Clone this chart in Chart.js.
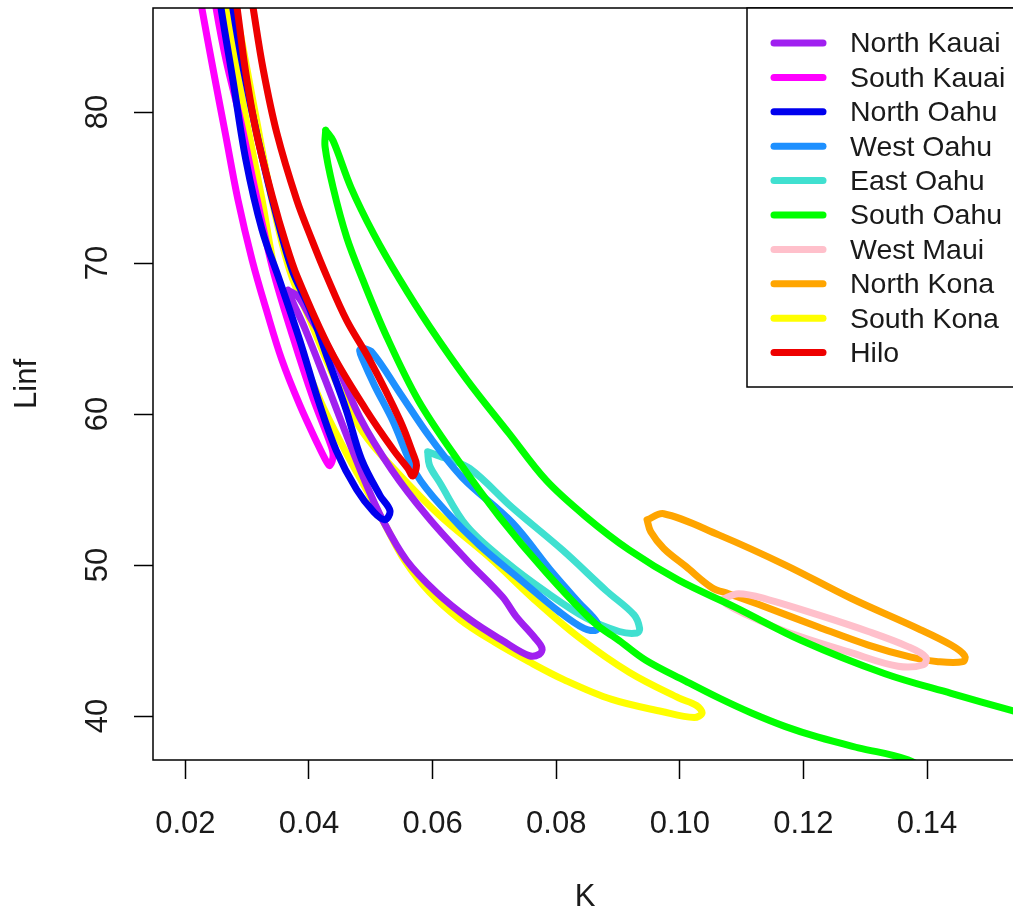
<!DOCTYPE html>
<html>
<head>
<meta charset="utf-8">
<title>K vs Linf</title>
<script src="https://cdn.jsdelivr.net/npm/chart.js@4.4.1/dist/chart.umd.min.js"></script>
<style>
  html, body { margin: 0; padding: 0; background: #fff; overflow: hidden; }
  #wrap { width: 1025px; height: 918px; }
</style>
</head>
<body>
<div id="wrap"><canvas id="c" width="1025" height="918"></canvas></div>
<script>
// regions, in legend order
const regions = ['North Kauai', 'South Kauai', 'North Oahu', 'West Oahu', 'East Oahu',
                 'South Oahu', 'West Maui', 'North Kona', 'South Kona', 'Hilo'];

// contour outlines (K, Linf); the last point closes the loop
const northKauaiK    = [0.0366,0.0382,0.0405,0.0437,0.0482,0.0534,0.0592,0.0656,0.0713,0.0735,0.0765,0.0777,0.0773,0.0756,0.0713,0.0660,0.0606,0.0558,0.0519,0.0490,0.0458,0.0426,0.0394,0.0373,0.0366];
const northKauaiLinf = [68.2,67.8,66.2,64.0,59.8,56.3,53.2,50.3,47.9,46.6,45.2,44.5,44.1,44.0,45.0,46.4,48.2,50.3,53.0,55.6,58.9,62.3,65.6,67.5,68.2];

const southKauaiK    = [0.0219,0.0227,0.0245,0.0265,0.0285,0.0308,0.0331,0.0356,0.0385,0.0413,0.0429,0.0434,0.0439,0.0434,0.0406,0.0374,0.0342,0.0313,0.0289,0.0266,0.0250,0.0244,0.0219];
const southKauaiLinf = [88.7,86.8,82.8,78.5,74.2,70.2,66.9,63.6,60.6,58.1,56.8,56.6,57.3,58.1,61.1,65.1,69.5,74.8,79.5,83.4,86.8,88.7,88.7];

const northOahuK     = [0.0252,0.0258,0.0277,0.0298,0.0324,0.0352,0.0385,0.0415,0.0444,0.0477,0.0505,0.0523,0.0531,0.0515,0.0485,0.0460,0.0431,0.0402,0.0373,0.0345,0.0318,0.0294,0.0277,0.0271,0.0252];
const northOahuLinf  = [88.7,86.8,82.1,76.8,72.2,68.9,64.9,60.9,57.6,55.0,53.5,53.0,53.6,54.6,57.0,60.3,63.6,66.9,69.5,73.5,78.1,82.8,86.8,88.7,88.7];

const westOahuK      = [0.0485,0.0502,0.0547,0.0595,0.0648,0.0729,0.0794,0.0837,0.0866,0.0865,0.0845,0.0805,0.0740,0.0676,0.0623,0.0574,0.0535,0.0506,0.0487,0.0482,0.0485];
const westOahuLinf   = [64.4,64.1,61.4,58.5,55.8,52.8,49.5,47.5,46.2,45.7,45.8,46.9,49.1,51.3,53.5,56.0,59.6,61.9,63.6,64.2,64.4];

const eastOahuK      = [0.0592,0.0619,0.0660,0.0729,0.0810,0.0881,0.0926,0.0935,0.0931,0.0902,0.0848,0.0784,0.0719,0.0655,0.0611,0.0595,0.0592];
const eastOahuLinf   = [57.5,57.1,56.4,53.8,51.0,48.3,46.7,45.8,45.5,45.6,46.5,48.2,50.2,52.6,55.5,56.6,57.5];

const southOahuK     = [0.0427,0.0439,0.0468,0.0505,0.0547,0.0595,0.0655,0.0724,0.0784,0.0848,0.0918,0.0998,0.1090,0.1197,0.1332,0.1439,0.1535,0.1644,0.1676,0.1595,0.1450,
                        0.1369,0.1289,0.1224,0.1171,0.1116,0.1063,0.1010,0.0945,0.0902,0.0861,0.0784,0.0708,0.0640,0.0577,0.0526,0.0487,0.0461,0.0439,0.0426,0.0427];
const southOahuLinf  = [78.8,78.1,75.0,71.9,68.9,65.8,62.3,58.7,55.6,53.2,51.0,49.0,47.2,45.0,42.8,41.5,40.4,39.2,37.1,34.4,35.4,
                        37.1,37.9,38.6,39.3,40.2,41.2,42.3,43.7,45.0,46.2,49.5,53.2,57.0,60.9,65.1,68.9,71.7,75.0,77.7,78.8];

const westMauiK      = [0.1068,0.1095,0.1144,0.1224,0.1305,0.1369,0.1398,0.1394,0.1353,0.1277,0.1171,0.1103,0.1076,0.1068];
const westMauiLinf   = [47.7,48.1,47.7,46.7,45.6,44.6,43.9,43.4,43.3,44.2,45.6,46.8,47.4,47.7];

const northKonaK     = [0.0947,0.0974,0.1063,0.1171,0.1277,0.1385,0.1439,0.1461,0.1458,0.1418,0.1374,0.1305,0.1224,0.1127,0.1079,0.1052,0.1010,0.0974,0.0953,0.0947];
const northKonaLinf  = [53.0,53.4,52.0,50.0,47.8,45.8,44.7,44.0,43.6,43.6,43.9,44.7,45.9,47.4,48.1,48.5,49.9,51.1,52.2,53.0];

const southKonaK     = [0.0260,0.0266,0.0289,0.0308,0.0324,0.0347,0.0377,0.0418,0.0458,0.0498,0.0524,0.0555,0.0595,0.0644,0.0700,0.0756,0.0813,0.0890,0.0971,0.1023,0.1036,
                        0.1027,0.0998,0.0918,0.0837,0.0765,0.0692,0.0611,0.0539,0.0487,0.0442,0.0402,0.0369,0.0340,0.0315,0.0294,0.0282,0.0277,0.0260];
const southKonaLinf  = [88.7,86.8,81.5,77.5,74.2,69.1,65.2,60.9,57.6,54.6,52.6,50.3,48.2,46.4,44.9,43.6,42.4,41.1,40.3,39.9,40.2,
                        40.7,41.2,42.9,45.2,47.7,50.5,53.3,56.3,58.8,62.3,66.2,69.5,74.2,79.5,84.1,86.8,88.7,88.7];

const hiloK          = [0.0277,0.0284,0.0297,0.0315,0.0342,0.0361,0.0381,0.0435,0.0492,0.0537,0.0560,0.0568,
                        0.0574,0.0569,0.0547,0.0498,0.0461,0.0429,0.0405,0.0380,0.0348,0.0326,0.0310,0.0303,0.0277];
const hiloLinf       = [88.7,86.8,82.8,78.6,74.2,71.5,69.1,64.2,60.3,57.6,56.4,55.9,
                        56.6,57.3,59.6,63.6,66.2,69.1,71.5,74.2,78.6,82.8,86.8,88.7,88.7];

// axes
const kTicks    = [0.02, 0.04, 0.06, 0.08, 0.10, 0.12, 0.14];
const linfTicks = [40, 50, 60, 70, 80];
const kRange    = [0.01476, 0.15456];
const linfRange = [37.09, 86.89];

const series = [
  [northKauaiK, northKauaiLinf], [southKauaiK, southKauaiLinf], [northOahuK, northOahuLinf],
  [westOahuK, westOahuLinf], [eastOahuK, eastOahuLinf], [southOahuK, southOahuLinf],
  [westMauiK, westMauiLinf], [northKonaK, northKonaLinf], [southKonaK, southKonaLinf],
  [hiloK, hiloLinf]
];

// styling
const colours = ['#A020F0', '#FF00FF', '#0000EE', '#1E90FF', '#40E0D0',
                 '#00FF00', '#FFC0CB', '#FFA500', '#FFFF00', '#EE0000'];
// which outline sits on top (0 = topmost)
const stacking = [8, 7, 1, 4, 5, 2, 3, 6, 9, 0];

const FONT = '"Liberation Sans", Arial, Helvetica, sans-serif';
const INK = '#1a1a1a';

const datasets = regions.map((name, i) => ({
  label: name,
  data: series[i][0].map((k, j) => ({ x: k, y: series[i][1][j] })),
  showLine: true,
  borderColor: colours[i],
  backgroundColor: colours[i],
  borderWidth: 7,
  pointRadius: 0,
  pointHoverRadius: 0,
  tension: 0.35,
  borderCapStyle: 'round',
  borderJoinStyle: 'round',
  fill: false,
  clip: 0,
  order: stacking[i]
}));

// plot frame + boxed legend at top right, like base R
const frameAndLegend = {
  id: 'frameAndLegend',
  afterDatasetsDraw(chart) {
    const { ctx, chartArea: a } = chart;
    ctx.save();
    ctx.strokeStyle = '#000';
    ctx.lineWidth = 1.5;
    ctx.strokeRect(a.left, a.top, a.right - a.left, a.bottom - a.top);
    ctx.restore();
  },
  afterDraw(chart) {
    const { ctx, chartArea: a } = chart;
    const x0 = 747, y0 = a.top, h = 379;
    ctx.save();
    ctx.fillStyle = '#fff';
    ctx.fillRect(x0, y0, a.right - x0, h);
    ctx.strokeStyle = '#000';
    ctx.lineWidth = 1.5;
    ctx.strokeRect(x0, y0, a.right - x0, h);
    ctx.font = '28.5px ' + FONT;
    ctx.textBaseline = 'middle';
    ctx.textAlign = 'left';
    chart.data.datasets.forEach((ds, i) => {
      const y = y0 + 35 + i * 34.4;
      ctx.strokeStyle = ds.borderColor;
      ctx.lineWidth = 7;
      ctx.lineCap = 'round';
      ctx.beginPath();
      ctx.moveTo(774, y);
      ctx.lineTo(823, y);
      ctx.stroke();
      ctx.fillStyle = INK;
      ctx.fillText(ds.label, 850, y + 1.5);
    });
    ctx.restore();
  }
};

const tickGrid = {
  display: true,
  drawOnChartArea: false,
  drawTicks: true,
  tickLength: 19,
  tickColor: '#000',
  tickWidth: 1.5
};

new Chart(document.getElementById('c'), {
  type: 'scatter',
  data: { datasets },
  options: {
    responsive: false,
    animation: false,
    devicePixelRatio: 1,
    layout: { padding: { top: 8, right: 8, left: 0, bottom: 0 } },
    plugins: { legend: { display: false }, tooltip: { enabled: false } },
    scales: {
      x: {
        type: 'linear',
        min: kRange[0],
        max: kRange[1],
        afterBuildTicks: s => { s.ticks = kTicks.map(v => ({ value: v })); },
        afterFit: s => { s.height = 158; s.paddingLeft = 0; s.paddingRight = 0; },
        ticks: {
          autoSkip: false,
          maxRotation: 0,
          padding: 27,
          color: INK,
          font: { family: FONT, size: 31 },
          callback: v => v.toFixed(2)
        },
        grid: tickGrid,
        border: { display: false },
        title: {
          display: true,
          text: 'K',
          color: INK,
          font: { family: FONT, size: 31 },
          padding: { top: 0, bottom: 2 }
        }
      },
      y: {
        type: 'linear',
        min: linfRange[0],
        max: linfRange[1],
        afterBuildTicks: s => { s.ticks = linfTicks.map(v => ({ value: v })); },
        afterFit: s => { s.width = 153; s.paddingTop = 0; s.paddingBottom = 0; },
        ticks: {
          autoSkip: false,
          minRotation: 90,
          maxRotation: 90,
          crossAlign: 'center',
          padding: 18,
          color: INK,
          font: { family: FONT, size: 31 },
          callback: v => String(v)
        },
        grid: tickGrid,
        border: { display: false },
        title: {
          display: true,
          text: 'Linf',
          color: INK,
          font: { family: FONT, size: 31 },
          padding: { top: 9, bottom: 0 }
        }
      }
    }
  },
  plugins: [frameAndLegend]
});
</script>
</body>
</html>
